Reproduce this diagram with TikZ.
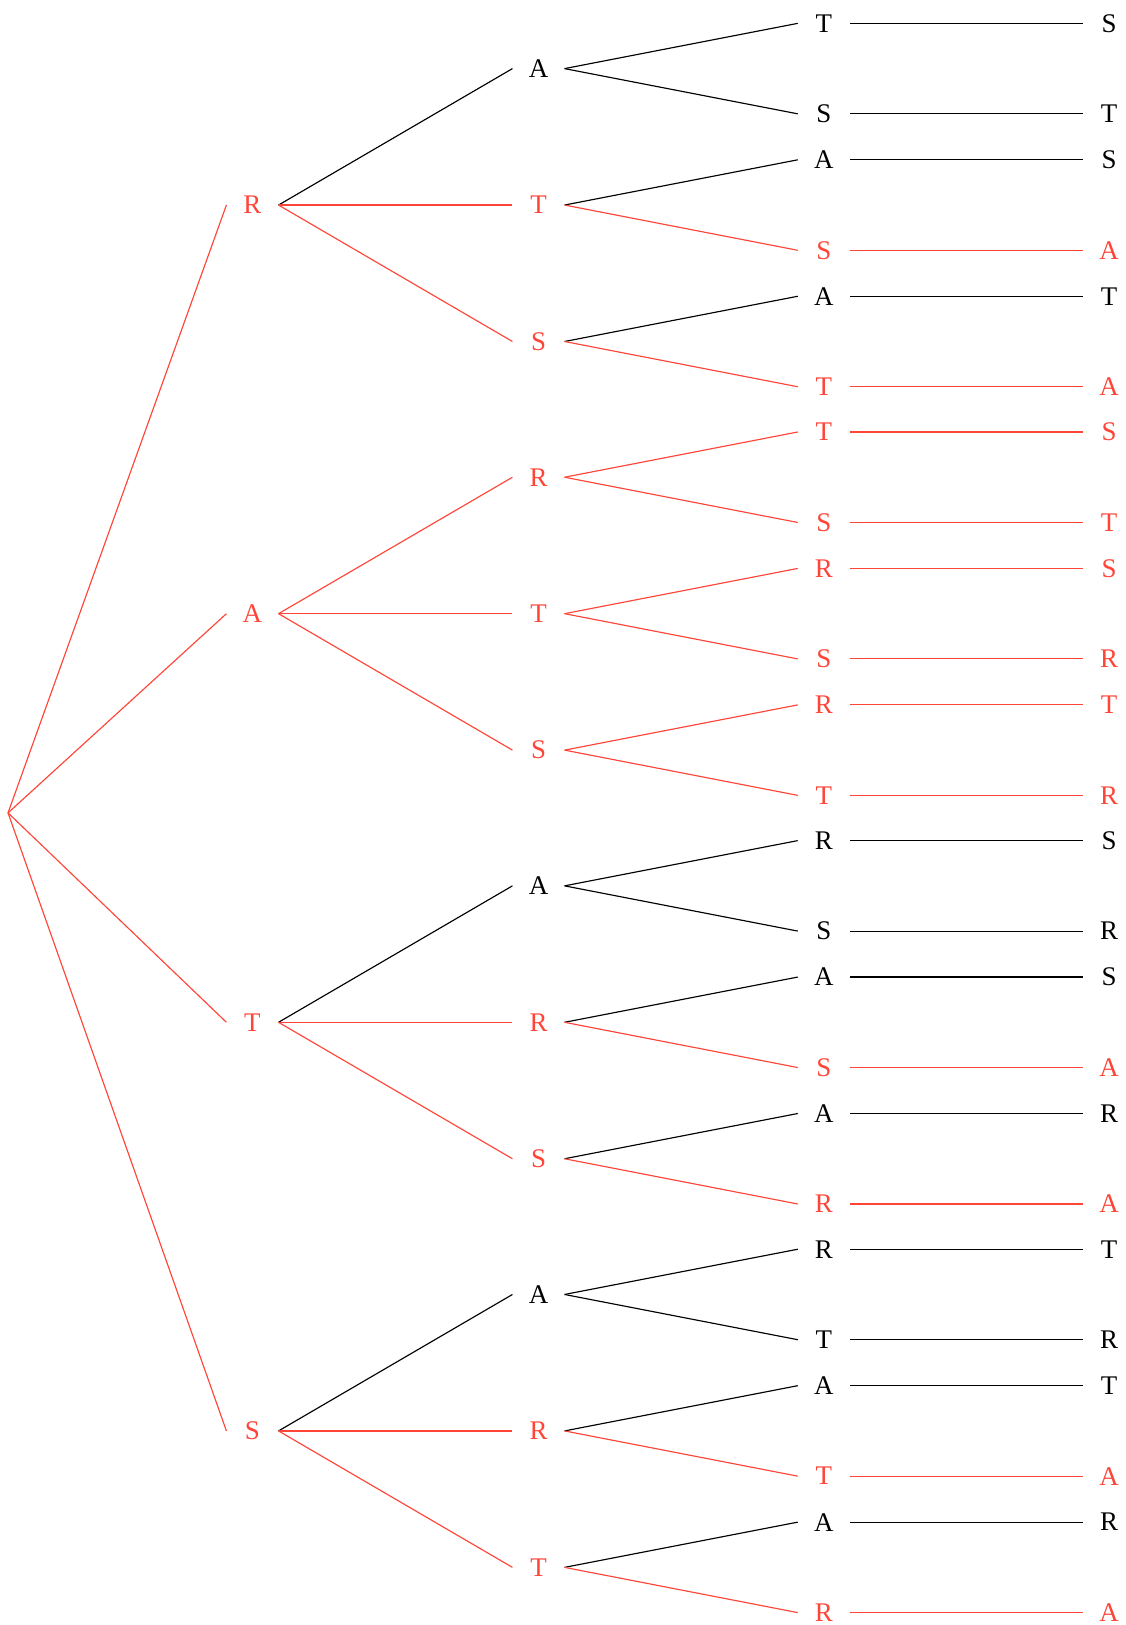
\documentclass[tikz,border=0pt]{standalone}
\usepackage{fontspec}
\setmainfont{Liberation Serif}
\definecolor{cHi}{HTML}{FF4438}
\definecolor{cInk}{HTML}{000000}

\begin{document}
\begin{tikzpicture}[font=\fontsize{10.5}{12}\selectfont,
  lt/.style={minimum width=0.7cm,inner sep=2pt,text=cInk},
  hl/.style={lt,text=cHi},
  ed/.style={draw=cInk,line width=0.45pt},
  hed/.style={draw=cHi,line width=0.45pt}]
  \useasboundingbox (0,0.03) rectangle (15.42,-22.24);
  \coordinate (o) at (0.11,-11.11);
  % first letter
  \node[hl] (R) at (3.46,-2.78) {R};
  \node[hl] (A) at (3.46,-8.38) {A};
  \node[hl] (T) at (3.46,-13.98) {T};
  \node[hl] (S) at (3.46,-19.58) {S};
  % second letter
  \node[lt] (RA) at (7.38,-0.91) {A}; \node[hl] (RT) at (7.38,-2.78) {T}; \node[hl] (RS) at (7.38,-4.65) {S};
  \node[hl] (AR) at (7.38,-6.51) {R}; \node[hl] (AT) at (7.38,-8.38) {T}; \node[hl] (AS) at (7.38,-10.25) {S};
  \node[lt] (TA) at (7.38,-12.11) {A}; \node[hl] (TR) at (7.38,-13.98) {R}; \node[hl] (TS) at (7.38,-15.85) {S};
  \node[lt] (SA) at (7.38,-17.71) {A}; \node[hl] (SR) at (7.38,-19.58) {R}; \node[hl] (ST) at (7.38,-21.45) {T};
  % third letter
  \node[lt] (RAT) at (11.29,-0.29) {T}; \node[lt] (RAS) at (11.29,-1.53) {S};
  \node[lt] (RTA) at (11.29,-2.16) {A}; \node[hl] (RTS) at (11.29,-3.40) {S};
  \node[lt] (RSA) at (11.29,-4.03) {A}; \node[hl] (RST) at (11.29,-5.27) {T};
  \node[hl] (ART) at (11.29,-5.89) {T}; \node[hl] (ARS) at (11.29,-7.13) {S};
  \node[hl] (ATR) at (11.29,-7.76) {R}; \node[hl] (ATS) at (11.29,-9.00) {S};
  \node[hl] (ASR) at (11.29,-9.63) {R}; \node[hl] (AST) at (11.29,-10.87) {T};
  \node[lt] (TAR) at (11.29,-11.49) {R}; \node[lt] (TAS) at (11.29,-12.73) {S};
  \node[lt] (TRA) at (11.29,-13.36) {A}; \node[hl] (TRS) at (11.29,-14.60) {S};
  \node[lt] (TSA) at (11.29,-15.23) {A}; \node[hl] (TSR) at (11.29,-16.47) {R};
  \node[lt] (SAR) at (11.29,-17.09) {R}; \node[lt] (SAT) at (11.29,-18.33) {T};
  \node[lt] (SRA) at (11.29,-18.96) {A}; \node[hl] (SRT) at (11.29,-20.20) {T};
  \node[lt] (STA) at (11.29,-20.83) {A}; \node[hl] (STR) at (11.29,-22.07) {R};
  % last letter
  \node[lt] (RATS) at (15.20,-0.29) {S}; \node[lt] (RAST) at (15.20,-1.53) {T};
  \node[lt] (RTAS) at (15.20,-2.16) {S}; \node[hl] (RTSA) at (15.20,-3.40) {A};
  \node[lt] (RSAT) at (15.20,-4.03) {T}; \node[hl] (RSTA) at (15.20,-5.27) {A};
  \node[hl] (ARTS) at (15.20,-5.89) {S}; \node[hl] (ARST) at (15.20,-7.13) {T};
  \node[hl] (ATRS) at (15.20,-7.76) {S}; \node[hl] (ATSR) at (15.20,-9.00) {R};
  \node[hl] (ASRT) at (15.20,-9.63) {T}; \node[hl] (ASTR) at (15.20,-10.87) {R};
  \node[lt] (TARS) at (15.20,-11.49) {S}; \node[lt] (TASR) at (15.20,-12.73) {R};
  \node[lt] (TRAS) at (15.20,-13.36) {S}; \node[hl] (TRSA) at (15.20,-14.60) {A};
  \node[lt] (TSAR) at (15.20,-15.23) {R}; \node[hl] (TSRA) at (15.20,-16.47) {A};
  \node[lt] (SART) at (15.20,-17.09) {T}; \node[lt] (SATR) at (15.20,-18.33) {R};
  \node[lt] (SRAT) at (15.20,-18.96) {T}; \node[hl] (SRTA) at (15.20,-20.20) {A};
  \node[lt] (STAR) at (15.20,-20.83) {R}; \node[hl] (STRA) at (15.20,-22.07) {A};
  % branches
  \draw[hed] (o) -- (R.west); \draw[hed] (o) -- (A.west); \draw[hed] (o) -- (T.west); \draw[hed] (o) -- (S.west);
  \draw[ed] (R.east) -- (RA.west); \draw[hed] (R.east) -- (RT.west); \draw[hed] (R.east) -- (RS.west);
  \draw[hed] (A.east) -- (AR.west); \draw[hed] (A.east) -- (AT.west); \draw[hed] (A.east) -- (AS.west);
  \draw[ed] (T.east) -- (TA.west); \draw[hed] (T.east) -- (TR.west); \draw[hed] (T.east) -- (TS.west);
  \draw[ed] (S.east) -- (SA.west); \draw[hed] (S.east) -- (SR.west); \draw[hed] (S.east) -- (ST.west);
  \draw[ed] (RA.east) -- (RAT.west); \draw[ed] (RA.east) -- (RAS.west); \draw[ed] (RT.east) -- (RTA.west); \draw[hed] (RT.east) -- (RTS.west);
  \draw[ed] (RS.east) -- (RSA.west); \draw[hed] (RS.east) -- (RST.west); \draw[hed] (AR.east) -- (ART.west); \draw[hed] (AR.east) -- (ARS.west);
  \draw[hed] (AT.east) -- (ATR.west); \draw[hed] (AT.east) -- (ATS.west); \draw[hed] (AS.east) -- (ASR.west); \draw[hed] (AS.east) -- (AST.west);
  \draw[ed] (TA.east) -- (TAR.west); \draw[ed] (TA.east) -- (TAS.west); \draw[ed] (TR.east) -- (TRA.west); \draw[hed] (TR.east) -- (TRS.west);
  \draw[ed] (TS.east) -- (TSA.west); \draw[hed] (TS.east) -- (TSR.west); \draw[ed] (SA.east) -- (SAR.west); \draw[ed] (SA.east) -- (SAT.west);
  \draw[ed] (SR.east) -- (SRA.west); \draw[hed] (SR.east) -- (SRT.west); \draw[ed] (ST.east) -- (STA.west); \draw[hed] (ST.east) -- (STR.west);
  \draw[ed] (RAT.east) -- (RATS.west); \draw[ed] (RAS.east) -- (RAST.west); \draw[ed] (RTA.east) -- (RTAS.west); \draw[hed] (RTS.east) -- (RTSA.west);
  \draw[ed] (RSA.east) -- (RSAT.west); \draw[hed] (RST.east) -- (RSTA.west); \draw[hed] (ART.east) -- (ARTS.west); \draw[hed] (ARS.east) -- (ARST.west);
  \draw[hed] (ATR.east) -- (ATRS.west); \draw[hed] (ATS.east) -- (ATSR.west); \draw[hed] (ASR.east) -- (ASRT.west); \draw[hed] (AST.east) -- (ASTR.west);
  \draw[ed] (TAR.east) -- (TARS.west); \draw[ed] (TAS.east) -- (TASR.west); \draw[ed] (TRA.east) -- (TRAS.west); \draw[hed] (TRS.east) -- (TRSA.west);
  \draw[ed] (TSA.east) -- (TSAR.west); \draw[hed] (TSR.east) -- (TSRA.west); \draw[ed] (SAR.east) -- (SART.west); \draw[ed] (SAT.east) -- (SATR.west);
  \draw[ed] (SRA.east) -- (SRAT.west); \draw[hed] (SRT.east) -- (SRTA.west); \draw[ed] (STA.east) -- (STAR.west); \draw[hed] (STR.east) -- (STRA.west);
\end{tikzpicture}
\end{document}
